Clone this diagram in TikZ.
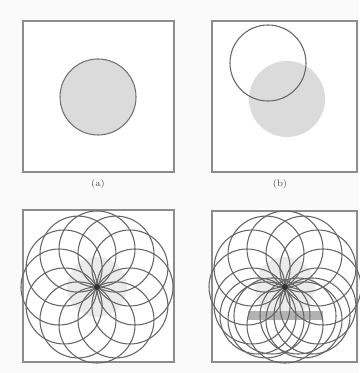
\documentclass[tikz,border=0pt]{standalone}
\begin{document}
\begin{tikzpicture}[x=0.75pt,y=-0.75pt,
  panel/.style={draw=black!45,line width=1pt},
  ring/.style={draw=black!60,line width=0.8pt},
  shade/.style={fill=black!14},
  lab/.style={font=\scriptsize,text=black!70}]
\useasboundingbox (0,0) rectangle (359,373);
\fill[black!2] (0,0) rectangle (359,373);
% panel a
\draw[panel,fill=white] (23,21) rectangle (174,172);
\coordinate (ca) at (98,97);
\fill[shade] (ca) circle (38);
\draw[draw=black!55,line width=0.8pt] (ca) circle (38);
\node[lab] (la) at (98,184) {(a)};
% panel b
\draw[panel,fill=white] (212,21) rectangle (357,172);
\coordinate (cb) at (287,99);
\coordinate (ob) at (268,63);
\fill[shade] (cb) circle (38);
\draw[ring] (ob) circle (38);
\node[lab] (lb) at (280,184) {(b)};
% panel c
\draw[panel,fill=white] (23,210) rectangle (174,362);
\coordinate (cc) at (97,287);
\fill[black!8] (cc) circle (30);
\foreach \a in {0,30,...,330}
  \draw[ring] (cc) ++(\a:38) circle (38);
\fill[black!80] (cc) circle (3);
% panel d
\draw[panel,fill=white] (212,211) rectangle (357,362);
\coordinate (cd) at (285,287);
\fill[black!8] (cd) circle (30);
\fill[black!30] (248,311) rectangle (323,320);
\foreach \a in {0,30,...,330}
  \draw[ring] (cd) ++(\a:38) circle (38);
\foreach \x in {258,272,298,312}
  \draw[ring] (\x,316) circle (38);
\fill[black!80] (cd) circle (3);
\end{tikzpicture}
\end{document}
